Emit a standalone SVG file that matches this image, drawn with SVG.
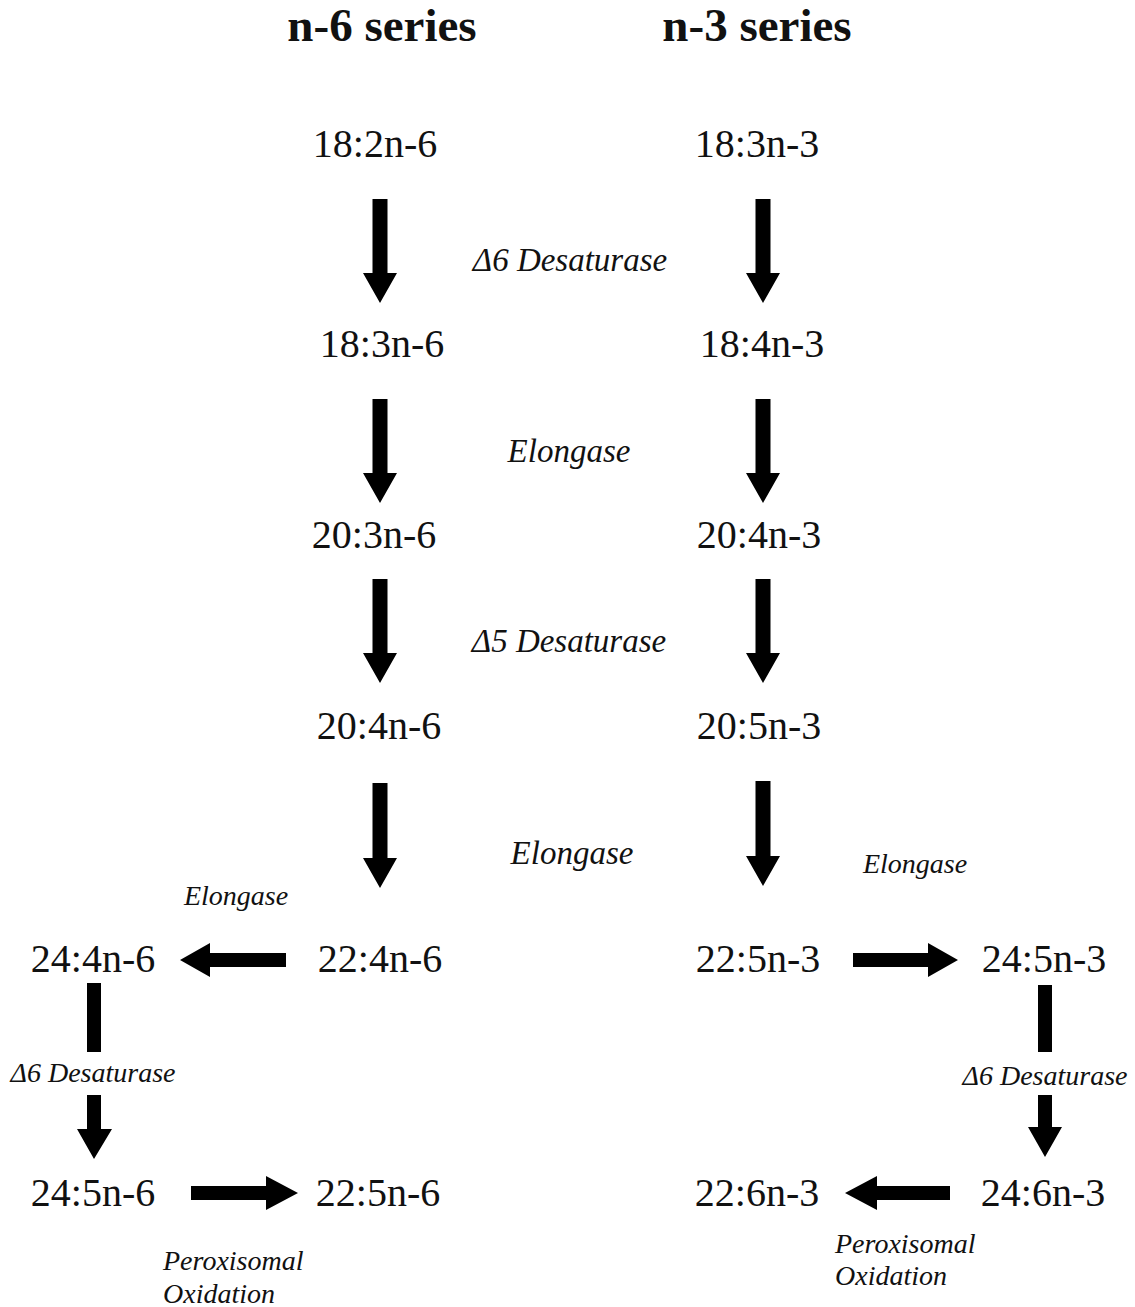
<svg xmlns="http://www.w3.org/2000/svg" width="1135" height="1307" viewBox="0 0 1135 1307">
<style>
text{font-family:"Liberation Serif","Times New Roman",serif;fill:#111;}
.t{font-size:47px;font-weight:bold;text-anchor:middle;}
.n{font-size:40px;text-anchor:middle;}
.e{font-size:33px;font-style:italic;text-anchor:middle;}
.s{font-size:28px;font-style:italic;}
.a{fill:#000;}
</style>
<rect width="1135" height="1307" fill="#fff"/>
<g id="titles">
<text class="t" x="382" y="41">n-6 series</text>
<text class="t" x="757" y="41">n-3 series</text>
</g>
<g id="n1"><text class="n" x="375" y="157">18:2n-6</text></g>
<g id="n2"><text class="n" x="382" y="357">18:3n-6</text></g>
<g id="n3"><text class="n" x="374" y="548">20:3n-6</text></g>
<g id="n4"><text class="n" x="379" y="739">20:4n-6</text></g>
<g id="n5"><text class="n" x="380" y="972">22:4n-6</text></g>
<g id="n6"><text class="n" x="93" y="972">24:4n-6</text></g>
<g id="n7"><text class="n" x="93" y="1206">24:5n-6</text></g>
<g id="n8"><text class="n" x="378" y="1206">22:5n-6</text></g>
<g id="m1"><text class="n" x="757" y="157">18:3n-3</text></g>
<g id="m2"><text class="n" x="762" y="357">18:4n-3</text></g>
<g id="m3"><text class="n" x="759" y="548">20:4n-3</text></g>
<g id="m4"><text class="n" x="759" y="739">20:5n-3</text></g>
<g id="m5"><text class="n" x="758" y="972">22:5n-3</text></g>
<g id="m6"><text class="n" x="1044" y="972">24:5n-3</text></g>
<g id="m7"><text class="n" x="1043" y="1206">24:6n-3</text></g>
<g id="m8"><text class="n" x="757" y="1206">22:6n-3</text></g>
<g id="labels">
<text class="e" x="570" y="271">Δ6 Desaturase</text>
<text class="e" x="569" y="462">Elongase</text>
<text class="e" x="569" y="652">Δ5 Desaturase</text>
<text class="e" x="572" y="864">Elongase</text>
<text class="s" x="236" y="905" text-anchor="middle">Elongase</text>
<text class="s" x="915" y="873" text-anchor="middle">Elongase</text>
<text class="s" x="93" y="1082" text-anchor="middle">Δ6 Desaturase</text>
<text class="s" x="1045" y="1085" text-anchor="middle">Δ6 Desaturase</text>
<text class="s" x="163" y="1270">Peroxisomal</text>
<text class="s" x="163" y="1303">Oxidation</text>
<text class="s" x="835" y="1253">Peroxisomal</text>
<text class="s" x="835" y="1285">Oxidation</text>
</g>
<g id="connectors" class="a">
<path d="M372.5 199H387.5V273H397L380 303L363 273H372.5Z"/>
<path d="M755.5 199H770.5V273H780L763 303L746 273H755.5Z"/>
<path d="M372.5 399H387.5V473H397L380 503L363 473H372.5Z"/>
<path d="M755.5 399H770.5V473H780L763 503L746 473H755.5Z"/>
<path d="M372.5 579H387.5V653H397L380 683L363 653H372.5Z"/>
<path d="M755.5 579H770.5V653H780L763 683L746 653H755.5Z"/>
<path d="M372.5 783H387.5V858H397L380 888L363 858H372.5Z"/>
<path d="M755.5 781H770.5V856H780L763 886L746 856H755.5Z"/>
<path d="M286 953V967H210V977L180 960L210 943V953Z"/>
<path d="M853 953V967H928V977L958 960L928 943V953Z"/>
<path d="M191 1186V1200H266V1210L298 1193L266 1176V1186Z"/>
<path d="M950 1186V1200H877V1210L845 1193L877 1176V1186Z"/>
<rect x="87" y="983" width="14" height="69"/>
<path d="M87 1095H101V1129H112L94 1159L77 1129H87Z"/>
<rect x="1038" y="985" width="14" height="67"/>
<path d="M1038 1095H1052V1127H1062L1045 1157L1028 1127H1038Z"/>
</g>
</svg>
